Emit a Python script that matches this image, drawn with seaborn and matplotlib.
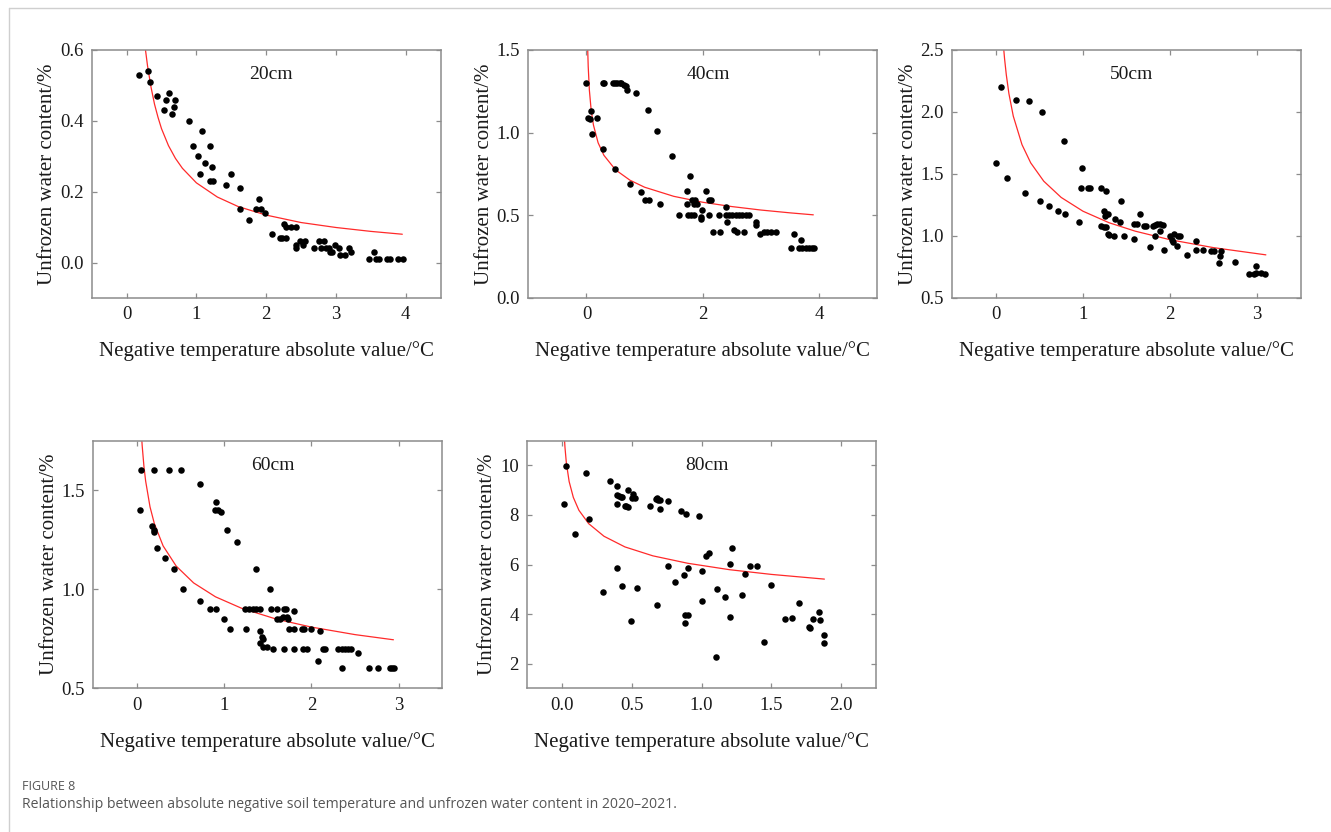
import numpy as np
import pandas as pd
import matplotlib
matplotlib.use("Agg")
import matplotlib.pyplot as plt
from matplotlib.lines import Line2D
import seaborn as sns

# ---------------- data ----------------
# 20 cm
x20 = [0.18, 0.30, 0.34, 0.43, 0.53, 0.57, 0.61, 0.65, 0.68, 0.69, 0.89, 0.95, 1.02, 1.05, 1.08,
       1.13, 1.19, 1.19, 1.22, 1.24, 1.43, 1.49, 1.62, 1.62, 1.75, 1.86, 1.90, 1.93, 1.98, 2.09,
       2.20, 2.23, 2.26, 2.28, 2.29, 2.35, 2.43, 2.42, 2.43, 2.48, 2.53, 2.56, 2.68, 2.76, 2.78,
       2.83, 2.86, 2.90, 2.92, 2.94, 2.99, 3.04, 3.06, 3.13, 3.18, 3.22, 3.47, 3.55, 3.58, 3.62,
       3.73, 3.77, 3.89, 3.96]
y20 = [0.53, 0.54, 0.51, 0.47, 0.43, 0.46, 0.48, 0.42, 0.44, 0.46, 0.40, 0.33, 0.30, 0.25, 0.37,
       0.28, 0.33, 0.23, 0.27, 0.23, 0.22, 0.25, 0.21, 0.15, 0.12, 0.15, 0.18, 0.15, 0.14, 0.08,
       0.07, 0.07, 0.11, 0.07, 0.10, 0.10, 0.10, 0.05, 0.04, 0.06, 0.05, 0.06, 0.04, 0.06, 0.04,
       0.06, 0.04, 0.04, 0.03, 0.03, 0.05, 0.04, 0.02, 0.02, 0.04, 0.03, 0.01, 0.03, 0.01, 0.01,
       0.01, 0.01, 0.01, 0.01]
fx20 = [0.27, 0.30, 0.35, 0.40, 0.45, 0.50, 0.60, 0.70, 0.80, 1.00, 1.30, 1.60, 2.00, 2.50, 3.00, 3.50, 3.95]
fy20 = [0.601, 0.555, 0.495, 0.447, 0.410, 0.378, 0.330, 0.294, 0.266, 0.225, 0.185, 0.158, 0.134, 0.113, 0.099, 0.088, 0.080]

# 40 cm
x40 = [0.00, 0.03, 0.06, 0.07, 0.10, 0.18, 0.28, 0.29, 0.31, 0.45, 0.49, 0.49, 0.53, 0.57, 0.60,
       0.64, 0.68, 0.70, 0.75, 0.85, 0.94, 1.00, 1.07, 1.05, 1.21, 1.26, 1.47, 1.59, 1.72, 1.73,
       1.74, 1.78, 1.80, 1.85, 1.82, 1.87, 1.85, 1.90, 1.97, 1.97, 1.99, 2.05, 2.11, 2.14, 2.11,
       2.17, 2.30, 2.28, 2.40, 2.41, 2.40, 2.45, 2.51, 2.57, 2.62, 2.68, 2.74, 2.80, 2.53, 2.58,
       2.71, 2.91, 2.92, 2.98, 3.05, 3.11, 3.17, 3.25, 3.51, 3.57, 3.68, 3.66, 3.71, 3.77, 3.83,
       3.88, 3.91]
y40 = [1.30, 1.09, 1.08, 1.13, 0.99, 1.09, 0.90, 1.30, 1.30, 1.30, 1.30, 0.78, 1.30, 1.30, 1.30,
       1.29, 1.28, 1.26, 0.69, 1.24, 0.64, 0.59, 0.59, 1.14, 1.01, 0.57, 0.86, 0.50, 0.65, 0.57,
       0.50, 0.735, 0.50, 0.50, 0.59, 0.59, 0.57, 0.57, 0.49, 0.48, 0.53, 0.65, 0.59, 0.59, 0.50,
       0.40, 0.40, 0.50, 0.55, 0.46, 0.50, 0.50, 0.50, 0.50, 0.50, 0.50, 0.50, 0.50, 0.41, 0.40,
       0.40, 0.46, 0.44, 0.39, 0.40, 0.40, 0.40, 0.40, 0.30, 0.39, 0.35, 0.30, 0.30, 0.30, 0.30,
       0.30, 0.30]
fx40 = [0.02, 0.03, 0.05, 0.08, 0.12, 0.20, 0.30, 0.50, 0.75, 1.00, 1.50, 2.00, 2.50, 3.00, 3.50, 3.90]
fy40 = [1.52, 1.40, 1.257, 1.139, 1.046, 0.939, 0.863, 0.775, 0.712, 0.670, 0.615, 0.579, 0.553, 0.532, 0.515, 0.503]

# 50 cm
x50 = [0.00, 0.06, 0.13, 0.23, 0.33, 0.38, 0.51, 0.53, 0.61, 0.71, 0.78, 0.79, 0.96, 0.98, 0.99,
       1.06, 1.08, 1.21, 1.26, 1.24, 1.27, 1.29, 1.25, 1.37, 1.43, 1.44, 1.21, 1.24, 1.26, 1.30,
       1.29, 1.36, 1.47, 1.59, 1.62, 1.59, 1.66, 1.70, 1.72, 1.77, 1.80, 1.83, 1.85, 1.89, 1.92,
       1.88, 1.83, 1.93, 2.00, 2.02, 2.03, 2.05, 2.09, 2.11, 2.08, 2.19, 2.30, 2.30, 2.38, 2.47,
       2.50, 2.56, 2.57, 2.59, 2.74, 2.91, 2.96, 2.99, 3.04, 3.09, 2.99]
y50 = [1.59, 2.20, 1.47, 2.10, 1.35, 2.09, 1.28, 2.00, 1.24, 1.20, 1.77, 1.18, 1.11, 1.39, 1.55,
       1.39, 1.39, 1.39, 1.36, 1.20, 1.18, 1.18, 1.16, 1.14, 1.11, 1.28, 1.08, 1.07, 1.07, 1.01,
       1.02, 1.00, 1.00, 0.975, 1.10, 1.10, 1.18, 1.08, 1.08, 0.91, 1.08, 1.09, 1.10, 1.10, 1.09,
       1.04, 1.00, 0.89, 1.00, 0.97, 0.95, 1.02, 1.00, 1.00, 0.92, 0.85, 0.96, 0.89, 0.89, 0.88,
       0.88, 0.78, 0.84, 0.88, 0.79, 0.69, 0.69, 0.70, 0.70, 0.69, 0.76]
fx50 = [0.09, 0.10, 0.12, 0.15, 0.20, 0.30, 0.40, 0.55, 0.75, 1.00, 1.30, 1.60, 2.00, 2.50, 3.10]
fy50 = [2.51, 2.43, 2.30, 2.148, 1.967, 1.737, 1.590, 1.442, 1.311, 1.200, 1.107, 1.039, 0.970, 0.906, 0.848]

# 60 cm
x60 = [0.05, 0.04, 0.20, 0.37, 0.51, 0.72, 0.17, 0.19, 0.20, 0.23, 0.32, 0.43, 0.53, 0.72, 0.84,
       0.91, 0.91, 0.90, 0.93, 0.96, 1.00, 1.03, 1.07, 1.15, 1.25, 1.24, 1.28, 1.33, 1.37, 1.41,
       1.36, 1.41, 1.43, 1.44, 1.41, 1.45, 1.49, 1.52, 1.54, 1.60, 1.56, 1.61, 1.64, 1.67, 1.72,
       1.73, 1.68, 1.71, 1.69, 1.74, 1.80, 1.80, 1.80, 1.89, 1.92, 1.99, 1.90, 1.95, 2.10, 2.08,
       2.13, 2.16, 2.31, 2.35, 2.39, 2.42, 2.45, 2.35, 2.53, 2.66, 2.76, 2.90, 2.92, 2.95]
y60 = [1.60, 1.40, 1.60, 1.60, 1.60, 1.53, 1.32, 1.30, 1.29, 1.21, 1.16, 1.10, 1.00, 0.94, 0.90,
       0.90, 1.44, 1.40, 1.40, 1.39, 0.85, 1.30, 0.80, 1.24, 0.80, 0.90, 0.90, 0.90, 0.90, 0.90,
       1.10, 0.79, 0.76, 0.75, 0.73, 0.71, 0.71, 1.00, 0.90, 0.90, 0.70, 0.85, 0.85, 0.86, 0.86,
       0.85, 0.90, 0.90, 0.70, 0.80, 0.80, 0.89, 0.70, 0.80, 0.80, 0.80, 0.70, 0.70, 0.79, 0.64,
       0.70, 0.70, 0.70, 0.70, 0.70, 0.70, 0.70, 0.60, 0.68, 0.60, 0.60, 0.60, 0.60, 0.60]
fx60 = [0.05, 0.06, 0.08, 0.10, 0.15, 0.20, 0.30, 0.45, 0.65, 0.90, 1.20, 1.60, 2.00, 2.50, 2.94]
fy60 = [1.795, 1.726, 1.622, 1.546, 1.416, 1.331, 1.219, 1.117, 1.032, 0.962, 0.904, 0.849, 0.809, 0.771, 0.745]

# 80 cm
x80 = [0.01, 0.03, 0.09, 0.17, 0.19, 0.29, 0.34, 0.39, 0.39, 0.41, 0.42, 0.43, 0.39, 0.39, 0.43,
       0.45, 0.46, 0.47, 0.47, 0.49, 0.51, 0.50, 0.52, 0.54, 0.63, 0.67, 0.68, 0.68, 0.69, 0.70,
       0.70, 0.76, 0.76, 0.81, 0.85, 0.87, 0.88, 0.90, 0.88, 0.89, 0.90, 0.98, 1.00, 1.00, 1.03,
       1.05, 1.10, 1.11, 1.17, 1.20, 1.20, 1.22, 1.29, 1.31, 1.35, 1.40, 1.45, 1.50, 1.60, 1.65,
       1.70, 1.77, 1.78, 1.80, 1.84, 1.85, 1.88, 1.88]
y80 = [8.43, 9.96, 7.22, 9.69, 7.82, 4.90, 9.36, 9.16, 8.80, 8.77, 8.73, 8.73, 8.43, 5.85, 5.14,
       8.37, 8.37, 8.33, 9.02, 3.71, 8.86, 8.69, 8.69, 5.05, 8.37, 8.64, 4.35, 8.69, 8.62, 8.26,
       8.62, 8.56, 5.92, 5.28, 8.15, 5.59, 3.95, 3.95, 3.62, 8.03, 5.85, 7.95, 5.72, 4.54, 6.35,
       6.48, 2.27, 5.01, 4.68, 6.01, 3.87, 6.68, 4.78, 5.61, 5.92, 5.92, 2.87, 5.16, 3.78, 3.85,
       4.43, 3.48, 3.44, 3.78, 4.07, 3.75, 3.14, 2.84]
fx80 = [0.015, 0.02, 0.03, 0.05, 0.08, 0.12, 0.19, 0.30, 0.45, 0.65, 0.90, 1.20, 1.50, 1.88]
fy80 = [11.22, 10.74, 10.10, 9.35, 8.71, 8.19, 7.65, 7.14, 6.71, 6.35, 6.05, 5.79, 5.60, 5.41]

depths = ["20cm", "40cm", "50cm", "60cm", "80cm"]
xticks_list = [[0, 1, 2, 3, 4], [0, 2, 4], [0, 1, 2, 3], [0, 1, 2, 3], [0.0, 0.5, 1.0, 1.5, 2.0]]
yticks_list = [[0.0, 0.2, 0.4, 0.6], [0.0, 0.5, 1.0, 1.5], [0.5, 1.0, 1.5, 2.0, 2.5],
               [0.5, 1.0, 1.5], [2, 4, 6, 8, 10]]
xlims = [(-0.5, 4.5), (-1, 5), (-0.5, 3.5), (-0.5, 3.5), (-0.25, 2.25)]
ylims = [(-0.1, 0.6), (0.0, 1.5), (0.5, 2.5), (0.5, 1.75), (1, 11)]
xfmt = ["{:.0f}", "{:.0f}", "{:.0f}", "{:.0f}", "{:.1f}"]
yfmt = ["{:.1f}", "{:.1f}", "{:.1f}", "{:.1f}", "{:.0f}"]
scatter_data = [(x20, y20), (x40, y40), (x50, y50), (x60, y60), (x80, y80)]
fit_data = [(fx20, fy20), (fx40, fy40), (fx50, fy50), (fx60, fy60), (fx80, fy80)]

# ---------------- style ----------------
sns.set_theme(style="ticks")
plt.rcParams["font.family"] = ["Liberation Serif", "DejaVu Serif"]
plt.rcParams["mathtext.fontset"] = "stix"

W, H = 1331, 832
fig = plt.figure(figsize=(W / 100, H / 100), dpi=100)
fig.patch.set_facecolor("white")

# axes rectangles in pixels: left, right, top, bottom
rects = [(91.7, 440.7, 50, 298), (528.3, 877.3, 50, 298), (952.3, 1300.7, 50, 298),
         (93.3, 442.3, 440.7, 688.3), (527.3, 876.0, 440.7, 688.3)]

spine_col = "#8c8c8c"
for i, (l, r, t, b) in enumerate(rects):
    ax = fig.add_axes([l / W, 1 - b / H, (r - l) / W, (b - t) / H])
    xs, ys = scatter_data[i]
    df = pd.DataFrame({"x": xs, "y": ys})
    sns.scatterplot(data=df, x="x", y="y", ax=ax, color="black", s=22, linewidth=0, zorder=3)
    fx, fy = fit_data[i]
    dff = pd.DataFrame({"x": fx, "y": fy})
    sns.lineplot(data=dff, x="x", y="y", ax=ax, color="#ff2a2a", linewidth=0.9,
                 sort=False, estimator=None, zorder=2)
    ax.set_xlim(*xlims[i])
    ax.set_ylim(*ylims[i])
    ax.set_xticks(xticks_list[i])
    ax.set_xticklabels([xfmt[i].format(v) for v in xticks_list[i]])
    ax.set_yticks(yticks_list[i])
    ax.set_yticklabels([yfmt[i].format(v) for v in yticks_list[i]])
    ax.tick_params(axis="both", which="major", direction="in", length=3.5, width=0.9,
                   color=spine_col, labelsize=13.5, labelcolor="#1a1a1a",
                   top=True, right=True, pad=6)
    for s in ax.spines.values():
        s.set_visible(True)
        s.set_color(spine_col)
        s.set_linewidth(1.1)
    ax.set_xlabel("Negative temperature absolute value/\u00b0C", fontsize=15, labelpad=13,
                  color="#1a1a1a")
    ax.set_ylabel("Unfrozen water content/%", fontsize=15, labelpad=2, color="#1a1a1a")
    ax.text(0.515, 0.9, depths[i], transform=ax.transAxes, ha="center", va="center",
            fontsize=14, color="#1a1a1a")
    ax.set_facecolor("white")

# frame lines of the page
fig.add_artist(Line2D([9 / W, 1.0], [1 - 7.5 / H, 1 - 7.5 / H], color="#cfcfcf", linewidth=1.0))
fig.add_artist(Line2D([9 / W, 9 / W], [0.0, 1 - 7.5 / H], color="#cfcfcf", linewidth=1.0))

fig.text(22 / W, 1 - 787 / H, "FIGURE 8", fontsize=9, color="#555555",
         family=["Open Sans", "DejaVu Sans"], ha="left", va="center")
fig.text(22 / W, 1 - 804 / H,
         "Relationship between absolute negative soil temperature and unfrozen water content in 2020\u20132021.",
         fontsize=10.05, color="#555555", family=["Open Sans", "DejaVu Sans"], ha="left", va="center")

fig.savefig("out.png", dpi=100, facecolor="white")
